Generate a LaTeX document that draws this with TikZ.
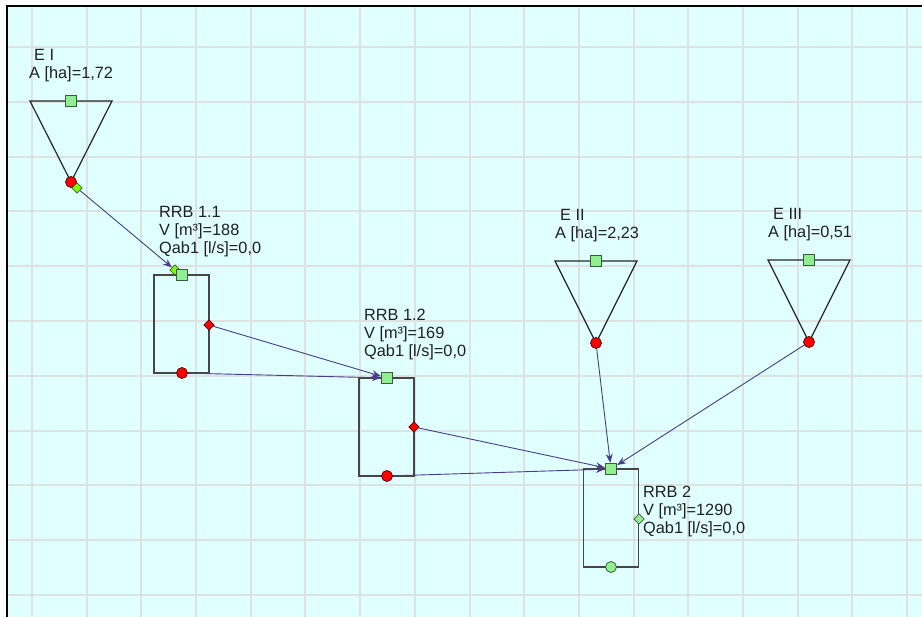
\documentclass[tikz,border=0pt]{standalone}
\usepackage{fontspec}
\setmainfont{Liberation Sans}
\usetikzlibrary{shapes.geometric,arrows.meta}
\definecolor{bgcyan}{RGB}{224,255,255}
\definecolor{gridc}{RGB}{220,226,226}
\definecolor{portgreen}{RGB}{144,238,144}
\definecolor{portedge}{RGB}{60,90,60}
\definecolor{chart}{RGB}{127,255,0}
\definecolor{flowc}{RGB}{72,61,139}
\definecolor{shapec}{RGB}{70,70,70}
\definecolor{txtc}{RGB}{32,32,32}
\tikzset{
  inport/.style={rectangle,draw=portedge,fill=portgreen,line width=0.8pt,minimum size=11.5pt,inner sep=0pt},
  outcirc/.style={circle,draw=black!70!red,fill=red,line width=0.7pt,minimum size=11pt,inner sep=0pt},
  greencirc/.style={circle,draw=portedge,fill=portgreen,line width=0.8pt,minimum size=11pt,inner sep=0pt},
  outdia/.style={diamond,draw=black!70!red,fill=red,line width=0.7pt,minimum width=10.5pt,minimum height=10.5pt,inner sep=0pt},
  chartdia/.style={diamond,draw=portedge,fill=chart,line width=0.7pt,minimum width=10.5pt,minimum height=10.5pt,inner sep=0pt},
  lightdia/.style={diamond,draw=portedge,fill=portgreen,line width=0.7pt,minimum width=10.5pt,minimum height=10.5pt,inner sep=0pt},
  tank/.style={rectangle,draw=shapec,line width=1.6pt,minimum width=55pt,minimum height=98pt,inner sep=0pt},
  catch/.style={draw=black!85,line width=1.2pt,line join=miter},
  flow/.style={draw=flowc,line width=0.9pt,-{Stealth[length=9pt,width=7pt]}},
  lbl/.style={anchor=base west,inner sep=0pt,align=left,text=txtc,font=\fontsize{16.3}{18.2}\selectfont},
}
\begin{document}
\begin{tikzpicture}[x=1pt,y=-1pt]
\useasboundingbox (0,0) rectangle (922,617);
% background and grid
\fill[white] (0,0) rectangle (922,617);
\fill[bgcyan] (6.5,6.5) rectangle (922,617);
\foreach \k in {0,...,16} {\draw[gridc,line width=2pt] ({32+54.69*\k},7) -- ({32+54.69*\k},617);}
\foreach \k in {0,...,10} {\draw[gridc,line width=2pt] (7,{47+54.8*\k}) -- (922,{47+54.8*\k});}
\draw[black,line width=2pt] (6.7,617) -- (6.7,6.5) -- (922,6.5);

% catchments (triangles)
\draw[catch] (30,101) -- (112,101) -- (71,182) -- cycle;
\draw[catch] (555,261) -- (637,261) -- (596,343) -- cycle;
\draw[catch] (768,260) -- (850,260) -- (809,342) -- cycle;

% tanks
\node[tank] (t11) at (181.5,324) {};
\node[tank] (t12) at (386.5,427) {};
\node[tank] (t2) at (611,518) {};

% labels (anchored at the baseline of the last line)
\node[lbl] (lEI) at (29,79) {\hspace{5pt}E I\\A [ha]=1,72};
\node[lbl] (lEII) at (555,238.5) {\hspace{5pt}E II\\A [ha]=2,23};
\node[lbl] (lEIII) at (768,237.5) {\hspace{5pt}E III\\A [ha]=0,51};
\node[lbl] (l11) at (159,254) {RRB 1.1\\V [m³]=188\\Qab1 [l/s]=0,0};
\node[lbl] (l12) at (364,356.5) {RRB 1.2\\V [m³]=169\\Qab1 [l/s]=0,0};
\node[lbl] (l2) at (643,533.5) {RRB 2\\V [m³]=1290\\Qab1 [l/s]=0,0};

% ports E I
\node[inport] (eIin) at (71,101) {};
\node[outcirc] (eIout) at (71,182) {};
\node[chartdia] (eIdia) at (77,188) {};
% ports E II, E III
\node[inport] (eIIin) at (596,261) {};
\node[outcirc] (eIIout) at (596,343) {};
\node[inport] (eIIIin) at (809,260) {};
\node[outcirc] (eIIIout) at (809,342) {};
% ports RRB 1.1
\node[chartdia] (t11dia) at (175,270) {};
\node[inport] (t11in) at (182,275) {};
\node[outdia] (t11side) at (209,325) {};
\node[outcirc] (t11bot) at (182,373) {};
% ports RRB 1.2
\node[inport] (t12in) at (387,378) {};
\node[outdia] (t12side) at (414,427) {};
\node[outcirc] (t12bot) at (387,476) {};
% ports RRB 2
\node[inport] (t2in) at (611,469) {};
\node[lightdia] (t2side) at (639,519) {};
\node[greencirc] (t2bot) at (611,567) {};

% flows
\draw[flow] (eIdia) -- (t11dia);
\draw[flow] (t11side) -- (t12in);
\draw[flow] (t11bot) -- (t12in);
\draw[flow] (t12side) -- (t2in);
\draw[flow] (t12bot) -- (t2in);
\draw[flow] (eIIout) -- (t2in);
\draw[flow] (eIIIout) -- (t2in);
\end{tikzpicture}
\end{document}
